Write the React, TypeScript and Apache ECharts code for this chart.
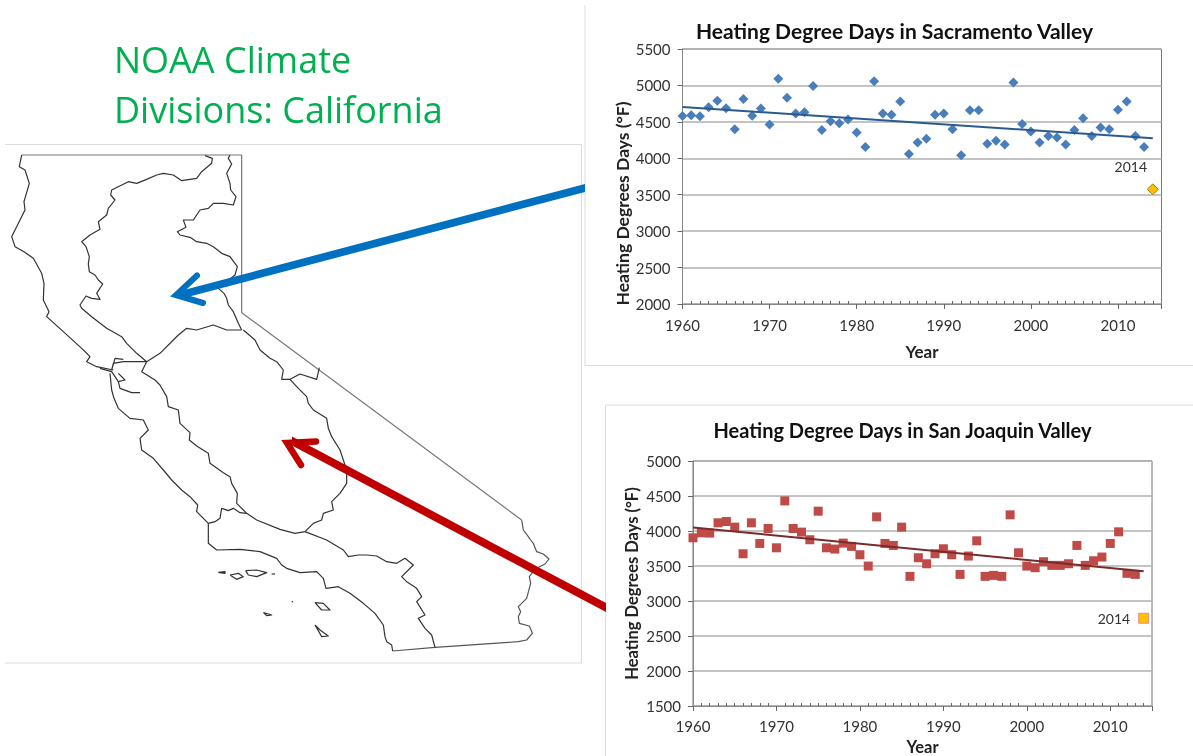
import React, { useEffect, useRef } from "react";
import * as echarts from "echarts";

const years = [
  1960, 1961, 1962, 1963, 1964, 1965, 1966, 1967, 1968, 1969,
  1970, 1971, 1972, 1973, 1974, 1975, 1976, 1977, 1978, 1979,
  1980, 1981, 1982, 1983, 1984, 1985, 1986, 1987, 1988, 1989,
  1990, 1991, 1992, 1993, 1994, 1995, 1996, 1997, 1998, 1999,
  2000, 2001, 2002, 2003, 2004, 2005, 2006, 2007, 2008, 2009,
  2010, 2011, 2012, 2013,
];
const sacramento = [
  4580, 4590, 4578, 4700, 4790, 4688, 4400, 4815, 4583, 4683,
  4465, 5090, 4830, 4615, 4633, 4993, 4387, 4510, 4482, 4532,
  4355, 4154, 5057, 4615, 4597, 4780, 4058, 4218, 4268, 4597,
  4615, 4400, 4040, 4660, 4660, 4200, 4240, 4190, 5040, 4469,
  4368, 4218, 4305, 4286, 4190, 4387, 4550, 4305, 4423, 4400,
  4665, 4780, 4305, 4154,
];
const sanJoaquin = [
  3903, 3974, 3970, 4117, 4136, 4055, 3675, 4117, 3822, 4036,
  3760, 4430, 4036, 3984, 3875, 4283, 3760, 3742, 3827, 3780,
  3661, 3499, 4202, 3822, 3794, 4055, 3352, 3618, 3532, 3675,
  3746, 3661, 3380, 3642, 3860, 3352, 3366, 3352, 4231, 3689,
  3499, 3476, 3561, 3509, 3509, 3532, 3794, 3509, 3575, 3628,
  3822, 3988, 3395, 3380,
];
const sacramento2014 = 3574;
const sanJoaquin2014 = 2754;
const sacramentoTrend = [4705, 4275];
const sanJoaquinTrend = [4050, 3425];
const trendYears = [1960, 2014];

type P = [number, number];
const z3 = (pts: number[][]): P[] => pts.map(([x, y]) => [x / 3, 140 + y / 3]);
const z4 = (pts: number[][]): P[] => pts.map(([x, y]) => [100 + x / 3, 320 + y / 3]);
const z5 = (pts: number[][]): P[] => pts.map(([x, y]) => [300 + x / 3, 380 + y / 3]);

const stateLine: P[] = [
  ...z3([[65, 45], [725, 45], [725, 518]]),
  ...z5([[665, 420]]),
];
const eastBorder: P[] = z5([
  [665, 420], [670, 450], [685, 470], [692, 480], [700, 490], [710, 515], [730, 522], [747, 537], [735, 552], [705, 567],
  [688, 590], [692, 610], [688, 625], [680, 655], [655, 680], [662, 695], [655, 710], [658, 730], [688, 738], [697, 760], [680, 780],
  [655, 785], [405, 802], [278, 813],
]);
const southCoast: P[] = [
  ...z5([[278, 813], [275, 795], [260, 785], [255, 770], [250, 735], [225, 700], [190, 670], [150, 640], [115, 620], [100, 622], [78, 625], [70, 595], [50, 575], [0, 578]]),
  ...z4([[560, 745], [545, 735], [530, 715], [480, 695], [420, 688], [350, 690], [325, 670], [325, 610], [290, 575], [293, 555], [270, 530], [245, 510], [215, 480], [190, 450], [160, 415], [125, 390], [120, 355], [145, 330], [130, 300], [90, 295], [55, 265], [42, 235], [35, 210], [30, 160]]),
];
const northCoast: P[] = z3([
  [340, 690], [290, 680], [260, 665], [270, 650], [245, 625], [190, 575], [140, 530], [147, 515], [130, 480], [132, 430], [125, 400],
  [100, 355], [72, 335], [45, 320], [35, 290], [60, 240], [75, 210], [72, 185], [88, 130], [75, 90], [58, 80], [65, 45],
]);
const sacWest: P[] = z3([
  [440, 665], [410, 640], [380, 610], [365, 590], [320, 565], [275, 530], [245, 505], [240, 495], [258, 468], [275, 475], [300, 478],
  [290, 460], [308, 432], [295, 420], [285, 405], [268, 395], [265, 372], [268, 350], [258, 320], [245, 305], [270, 285], [300, 268], [295, 245], [320, 225], [325, 205],
  [345, 180], [332, 165], [335, 150], [385, 125], [410, 130], [440, 118], [470, 105], [490, 100], [520, 105], [545, 122], [570, 118], [590, 115], [605, 95],
  [635, 70], [637, 55], [615, 47],
]);
const sacEast: P[] = z3([
  [690, 45], [685, 55], [695, 72], [680, 100], [690, 130], [692, 150], [708, 170], [700, 195], [670, 190], [640, 190], [625, 205], [600, 210], [580, 240], [550, 240],
  [558, 262], [532, 275], [540, 285], [570, 292], [590, 305], [620, 310], [640, 320], [665, 340], [690, 350], [712, 380], [705, 405], [655, 445], [672, 460], [680, 475], [685, 495],
  [700, 515], [715, 550], [725, 570],
]);
const sacSouth: P[] = z3([
  [725, 570], [680, 570], [640, 555], [590, 570], [560, 565], [535, 585], [520, 600], [480, 640], [440, 665],
]);
const joaquinLoop: P[] = z4([
  [430, 30], [465, 60], [480, 90], [510, 115], [530, 125], [550, 150], [545, 178], [570, 178], [595, 205], [620, 230], [625, 250], [640, 270], [680, 295], [685, 325], [695, 350], [720, 390],
  [730, 420], [740, 450], [740, 490], [720, 520], [695, 545], [700, 570], [670, 580], [665, 600], [640, 610], [615, 635], [585, 640], [540, 628],
  [470, 600], [440, 580], [410, 550], [412, 520], [395, 490], [390, 470], [370, 458], [330, 430], [325, 400], [290, 378], [268, 360], [270, 338], [240, 310], [235, 270], [205, 260], [200, 230],
  [180, 195], [165, 180], [125, 155], [140, 125],
]);
const joaquinNE: P[] = z4([[570, 178], [600, 162], [650, 178], [658, 143]]);
const centralCoastNotch: P[] = z4([[440, 580], [420, 578], [400, 565], [385, 572], [365, 565], [360, 595], [345, 605], [325, 610]]);
const southLine: P[] = [
  ...z4([[615, 635], [680, 660], [730, 690], [745, 710], [775, 705], [800, 705], [830, 708], [860, 725], [890, 730]]),
  ...z5([[315, 535], [340, 555], [305, 590], [320, 605], [350, 625], [365, 650], [350, 665], [375, 705], [355, 715], [375, 745], [395, 765], [405, 802]]),
];
const bayNorth: P[] = z4([[140, 125], [70, 125], [40, 130], [35, 150], [45, 115], [70, 118]]);
const bayInner: P[] = z4([[0, 145], [35, 155], [55, 185], [60, 205], [95, 218], [120, 218]]);
const bayLoop: P[] = z4([[55, 160], [75, 180], [55, 185]]);
const islands: P[][] = [
  z4([[355, 757], [375, 755], [375, 760], [355, 757]]),
  z4([[390, 765], [415, 760], [430, 770], [410, 778], [390, 765]]),
  z4([[437, 752], [470, 750], [500, 758], [470, 770], [445, 765], [437, 752]]),
  z4([[515, 762], [525, 762]]),
  z4([[575, 845], [579, 845]]),
  z4([[490, 878], [515, 885], [500, 887], [490, 878]]),
  z4([[645, 848], [670, 850], [690, 870], [665, 870], [645, 848]]),
  z4([[645, 915], [660, 930], [685, 948], [665, 950], [645, 915]]),
];

const FONT = "Lato";

function axisPair(
  left: number, top: number, width: number, height: number, yMin: number, yMax: number,
  nameGapX: number, nameGapY: number, yNameSize: number, xNameSize: number, yNameShift: number, xLabelMargin: number,
) {
  return {
    grid: { left, top, width, height, show: true, borderColor: "#777", borderWidth: 1, backgroundColor: "transparent" },
    xAxis: {
      type: "value", min: 1960, max: 2015, interval: 10,
      name: "Year", nameLocation: "middle", nameGap: nameGapX,
      nameTextStyle: { fontFamily: FONT, fontWeight: "bold", fontSize: xNameSize, color: "#222" },
      splitLine: { show: false },
      axisLine: { show: true, onZero: false, lineStyle: { color: "#888" } },
      axisTick: { show: true, length: 5, lineStyle: { color: "#666" } },
      minorTick: { show: true, splitNumber: 10, length: -3, lineStyle: { color: "#666" } },
      axisLabel: { fontFamily: FONT, fontSize: 15, color: "#333", margin: xLabelMargin, showMaxLabel: false, formatter: (v: number) => String(v) },
    },
    yAxis: {
      type: "value", min: yMin, max: yMax, interval: 500,
      name: "Heating Degrees Days (°F)", nameLocation: "middle", nameGap: nameGapY,
      nameTextStyle: {
        fontFamily: FONT, fontWeight: "bold", fontSize: yNameSize, color: "#222",
        padding: [0, yNameShift, 0, 0],
      },
      splitLine: { show: true, lineStyle: { color: "#b0b0b0", width: 1.5 } },
      axisLine: { show: true, lineStyle: { color: "#888" } },
      axisTick: { show: true, length: 5, lineStyle: { color: "#666" } },
      axisLabel: { fontFamily: FONT, fontSize: 15, color: "#333", margin: 12, formatter: (v: number) => String(v) },
    },
  };
}

export default function App() {
  const ref = useRef<HTMLDivElement>(null);
  useEffect(() => {
    document.body.style.margin = "0";
    const chart = echarts.init(ref.current!, undefined, { renderer: "svg" });
    const a = axisPair(682.5, 49, 479, 255, 2000, 5500, 39, 50, 17.5, 17, 54, 13);
    const b = axisPair(693, 461, 459, 246, 1500, 5000, 32, 53, 16.5, 16.5, 0, 12);

    const mapLine = (pts: P[], stroke = "#333", lineWidth = 1.2) => ({
      type: "polyline", z: 1, silent: true,
      shape: { points: pts },
      style: { stroke, lineWidth, fill: "none", lineJoin: "round" },
    });
    const boxLine = (x1: number, y1: number, x2: number, y2: number) => ({
      type: "line", z: 0, silent: true,
      shape: { x1, y1, x2, y2 },
      style: { stroke: "#dcdcdc", lineWidth: 1 },
    });
    const arrowHead = (pts: P[], stroke: string, lineWidth: number) => ({
      type: "polyline", z: 5, silent: true,
      shape: { points: pts },
      style: { stroke, lineWidth, fill: "none", lineCap: "round", lineJoin: "miter", miterLimit: 10 },
    });
    const arrowShaft = (pts: P[], fill: string) => ({
      type: "polygon", z: 5, silent: true,
      shape: { points: pts },
      style: { fill },
    });

    chart.setOption({
      animation: false,
      backgroundColor: "#fff",
      title: [
        {
          text: "Heating Degree Days in Sacramento Valley", left: 889.5, top: 15, textAlign: "center",
          textStyle: { fontFamily: FONT, fontWeight: "bold", fontSize: 21, color: "#111" },
        },
        {
          text: "Heating Degree Days in San Joaquin Valley", left: 897.5, top: 415, textAlign: "center",
          textStyle: { fontFamily: FONT, fontWeight: "bold", fontSize: 20, color: "#111" },
        },
      ],
      grid: [a.grid, b.grid],
      xAxis: [{ ...a.xAxis, gridIndex: 0 }, { ...b.xAxis, gridIndex: 1 }],
      yAxis: [{ ...a.yAxis, gridIndex: 0 }, { ...b.yAxis, gridIndex: 1 }],
      series: [
        {
          type: "scatter", xAxisIndex: 0, yAxisIndex: 0, symbol: "diamond", symbolSize: 10,
          itemStyle: { color: "#4A7EBB", opacity: 1 },
          data: years.map((y, i) => [y, sacramento[i]]),
        },
        {
          type: "line", xAxisIndex: 0, yAxisIndex: 0, symbol: "none",
          lineStyle: { color: "#2A5A8F", width: 2 },
          data: trendYears.map((y, i) => [y, sacramentoTrend[i]]),
        },
        {
          type: "scatter", xAxisIndex: 0, yAxisIndex: 0, symbol: "diamond", symbolSize: 11,
          itemStyle: { color: "#FFC000", borderColor: "#A08020", borderWidth: 1, opacity: 1 },
          label: {
            show: true, formatter: "2014", position: "top", offset: [-22, -5],
            fontFamily: FONT, fontSize: 14, color: "#333",
          },
          data: [[2014, sacramento2014]],
        },
        {
          type: "scatter", xAxisIndex: 1, yAxisIndex: 1, symbol: "rect", symbolSize: 9,
          itemStyle: { color: "#BE4B48", opacity: 1 },
          data: years.map((y, i) => [y, sanJoaquin[i]]),
        },
        {
          type: "line", xAxisIndex: 1, yAxisIndex: 1, symbol: "none",
          lineStyle: { color: "#7A2A2A", width: 2 },
          data: trendYears.map((y, i) => [y, sanJoaquinTrend[i]]),
        },
        {
          type: "scatter", xAxisIndex: 1, yAxisIndex: 1, symbol: "rect", symbolSize: 10,
          itemStyle: { color: "#FFC000", borderColor: "#E09090", borderWidth: 1, opacity: 1 },
          label: {
            show: true, formatter: "2014", position: "left", offset: [-3, 0],
            fontFamily: FONT, fontSize: 14, color: "#333",
          },
          data: [[2014, sanJoaquin2014]],
        },
      ],
      graphic: [
        boxLine(5, 144.5, 581.5, 144.5),
        boxLine(581.5, 144.5, 581.5, 663),
        boxLine(5, 663, 581.5, 663),
        boxLine(585, 5, 585, 365.5),
        boxLine(585, 365.5, 1193, 365.5),
        boxLine(605.5, 405, 1193, 405),
        boxLine(605.5, 405, 605.5, 756),
        mapLine(stateLine, "#777"),
        mapLine(eastBorder, "#555"),
        mapLine(southCoast),
        mapLine(northCoast),
        mapLine(sacWest),
        mapLine(sacEast),
        mapLine(sacSouth),
        mapLine(joaquinLoop),
        mapLine(joaquinNE),
        mapLine(centralCoastNotch),
        mapLine(southLine),
        mapLine(bayNorth),
        mapLine(bayInner),
        mapLine(bayLoop),
        ...islands.map((p) => mapLine(p)),
        arrowShaft([[585, 184], [585, 192], [180, 299], [180, 291]], "#0070C0"),
        arrowHead([[197, 275.5], [176, 295], [203, 303]], "#0070C0", 6),
        arrowShaft([[606, 603], [606, 612], [292, 445.5], [292, 436.5]], "#C00000"),
        arrowHead([[316, 441.5], [287, 443], [301, 465]], "#C00000", 6.5),
        {
          type: "text", z: 6, silent: true, x: 114, y: 34,
          style: {
            text: "NOAA Climate\nDivisions: California", fontFamily: "Open Sans", fontSize: 36,
            lineHeight: 50, fill: "#00B050",
          },
        },
      ],
    });
    return () => chart.dispose();
  }, []);
  return (
    <div
      ref={ref}
      style={{ position: "absolute", left: 0, top: 0, width: 1193, height: 756, background: "#fff", filter: "blur(0.4px)" }}
    />
  );
}
